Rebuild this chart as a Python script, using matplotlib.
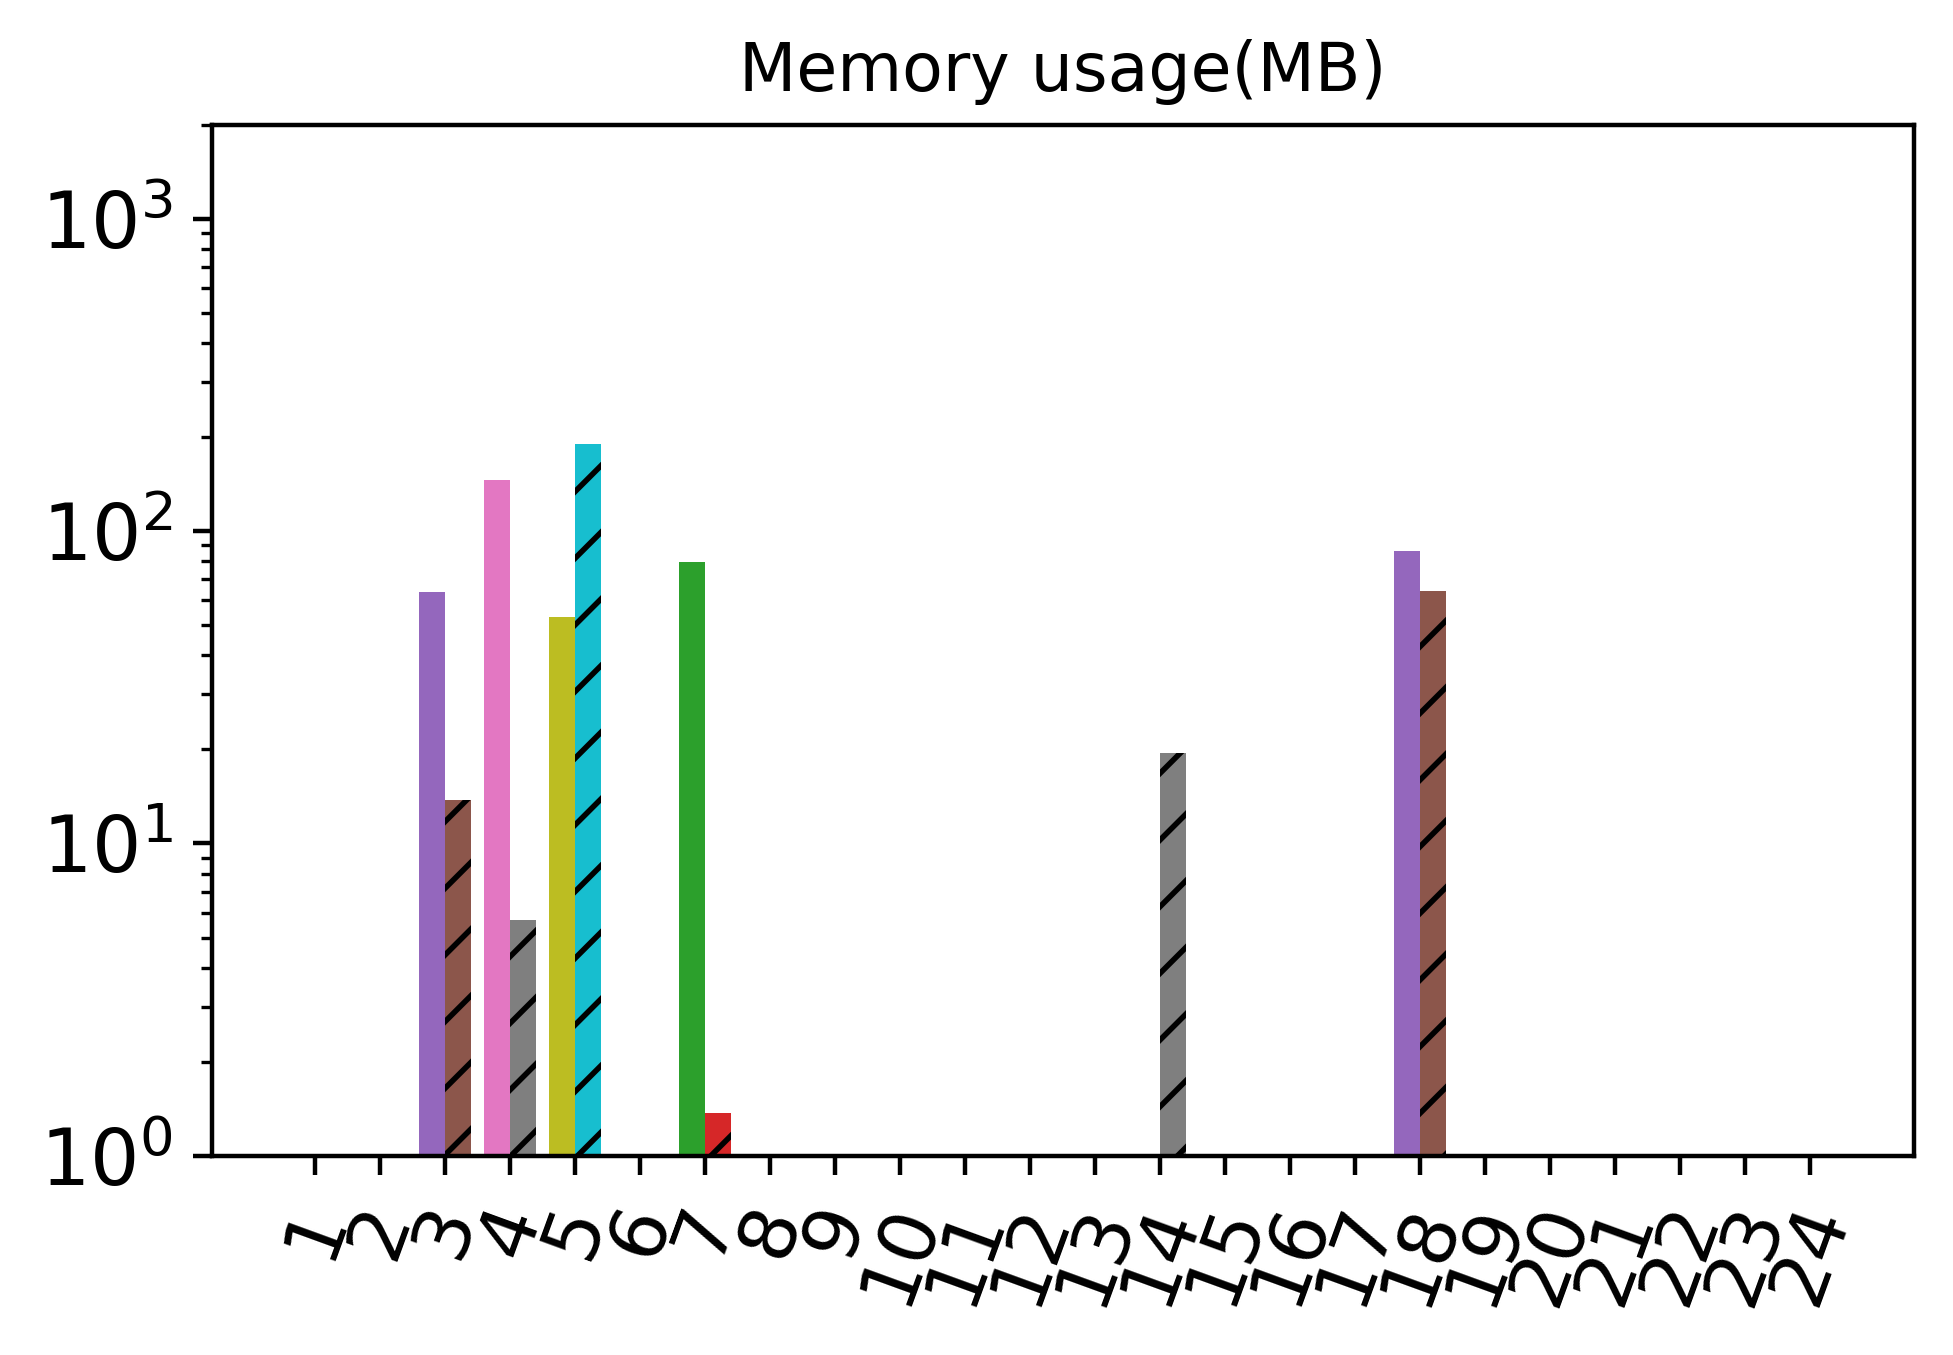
import matplotlib.pyplot as plt
import numpy as np

# memory usage per case, solid bar and hatched bar (0 = nothing recorded)
cases = [str(i) for i in range(1, 25)]
solid_mb = [0, 0, 63.8, 145.9, 53.1, 0, 79.6, 0, 0, 0, 0, 0,
            0, 0, 0, 0, 0, 86.4, 0, 0, 0, 0, 0, 0]
hatched_mb = [0, 0, 13.8, 5.68, 190, 0, 1.375, 0, 0, 0, 0, 0,
              0, 19.5, 0, 0, 0, 64.1, 0, 0, 0, 0, 0, 0]

fig = plt.figure(figsize=(1953 / 400, 1355 / 400), dpi=400)
ax = fig.add_axes([0.1084, 0.1469, 0.8714, 0.7612])

x = np.arange(len(cases))
width = 0.4
# one bar call each so the colour cycle moves on bar by bar
for i in range(len(cases)):
    ax.bar(x[i] - width / 2, solid_mb[i], width)
    ax.bar(x[i] + width / 2, hatched_mb[i], width, hatch='//')

ax.set_yscale('log')
ax.set_ylim(1, 2000)
ax.set_xticks(x)
ax.set_xticklabels(cases, rotation=70, fontsize=14)
ax.tick_params(axis='y', labelsize=14)
ax.set_title('Memory usage(MB)', fontsize=12)

fig.savefig('out.png', dpi=400)
